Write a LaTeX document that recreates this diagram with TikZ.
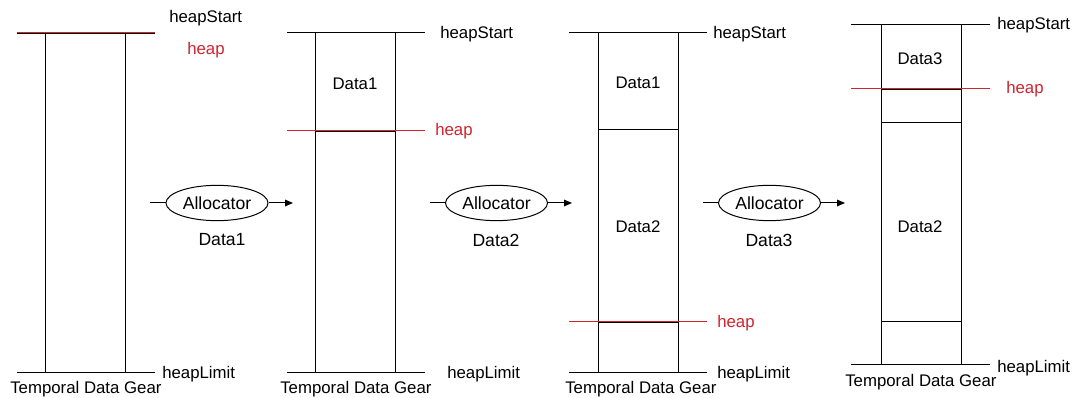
\documentclass[tikz,border=0pt]{standalone}
\usepackage{fontspec}
\setmainfont{Liberation Sans}
\usetikzlibrary{arrows.meta,shapes.geometric}
\definecolor{heapred}{RGB}{208,36,46}
\begin{document}
\begin{tikzpicture}[x=0.75pt,y=-0.75pt,
  font=\fontsize{12.6}{15}\selectfont,
  lbl/.style={anchor=west, inner sep=0pt},
  ctr/.style={inner sep=0pt},
  big/.style={font=\fontsize{13.2}{15}\selectfont},
  heaplbl/.style={lbl, text=heapred},
  wall/.style={line width=0.75pt},
  heapline/.style={draw=heapred, line width=0.6pt},
  alloc/.style={ellipse, draw, line width=0.75pt, inner sep=0pt, minimum width=76.5pt, minimum height=26.5pt, big},
  flow/.style={line width=0.75pt},
  flowarrow/.style={line width=0.75pt, -{Triangle[length=6pt,width=5pt]}}]
\useasboundingbox (0,0) rectangle (1075,398);

% ---------- Panel 1 ----------
\draw[wall] (17,33.4) -- (155,33.4);
\draw[wall] (45,33.4) rectangle (125,373);
\draw[wall] (17,373) -- (155,373);
\draw[heapline] (17,32.3) -- (155,32.3);
\node[lbl] (hs1) at (169,18) {heapStart};
\node[heaplbl] (hp1) at (187,50) {heap};
\node[lbl] (hl1) at (162,374) {heapLimit};
\node[lbl] (tg1) at (10,389) {Temporal Data Gear};

% ---------- Allocator 1 ----------
\node[alloc] (a1) at (217,203) {Allocator};
\coordinate (a1in) at (150,203);
\coordinate (a1out) at (293,203);
\draw[flow] (a1in) -- (a1);
\draw[flowarrow] (a1) -- (a1out);
\node[ctr,big] (d1) at (222,240) {Data1};

% ---------- Panel 2 ----------
\draw[wall] (287,33) -- (425,33);
\draw[wall] (315,33) rectangle (395,373);
\draw[wall] (315,131.2) -- (395,131.2);
\draw[wall] (287,373) -- (425,373);
\draw[heapline] (287,130) -- (425,130);
\node[ctr] (p2d1) at (355,84) {Data1};
\node[lbl] (hs2) at (440,34) {heapStart};
\node[heaplbl] (hp2) at (435,131) {heap};
\node[lbl] (hl2) at (447,374) {heapLimit};
\node[lbl] (tg2) at (280,389) {Temporal Data Gear};

% ---------- Allocator 2 ----------
\node[alloc] (a2) at (496.5,203) {Allocator};
\coordinate (a2in) at (430,203);
\coordinate (a2out) at (572,203);
\draw[flow] (a2in) -- (a2);
\draw[flowarrow] (a2) -- (a2out);
\node[ctr,big] (d2) at (496,240) {Data2};

% ---------- Panel 3 ----------
\draw[wall] (569,33) -- (707,33);
\draw[wall] (598,33) rectangle (678,373);
\draw[wall] (598,130) -- (678,130);
\draw[wall] (598,322.2) -- (678,322.2);
\draw[wall] (569,373) -- (707,373);
\draw[heapline] (569,321) -- (707,321);
\node[ctr] (p3d1) at (638,83) {Data1};
\node[ctr] (p3d2) at (638,227) {Data2};
\node[lbl] (hs3) at (713,34) {heapStart};
\node[heaplbl] (hp3) at (717,323) {heap};
\node[lbl] (hl3) at (717,374) {heapLimit};
\node[lbl] (tg3) at (565,389) {Temporal Data Gear};

% ---------- Allocator 3 ----------
\node[alloc] (a3) at (769.5,203) {Allocator};
\coordinate (a3in) at (703,203);
\coordinate (a3out) at (845,203);
\draw[flow] (a3in) -- (a3);
\draw[flowarrow] (a3) -- (a3out);
\node[ctr,big] (d3) at (769,240) {Data3};

% ---------- Panel 4 ----------
\draw[wall] (851,25) -- (990,25);
\draw[wall] (881,25) rectangle (961,365);
\draw[wall] (881,89.2) -- (961,89.2);
\draw[wall] (881,123) -- (961,123);
\draw[wall] (881,322) -- (961,322);
\draw[wall] (851,365) -- (990,365);
\draw[heapline] (851,88) -- (990,88);
\node[ctr] (p4d3) at (920,59) {Data3};
\node[ctr] (p4d2) at (920,227) {Data2};
\node[lbl] (hs4) at (997,25) {heapStart};
\node[heaplbl] (hp4) at (1006,89) {heap};
\node[lbl] (hl4) at (997,368) {heapLimit};
\node[lbl] (tg4) at (845,382) {Temporal Data Gear};
\end{tikzpicture}
\end{document}
